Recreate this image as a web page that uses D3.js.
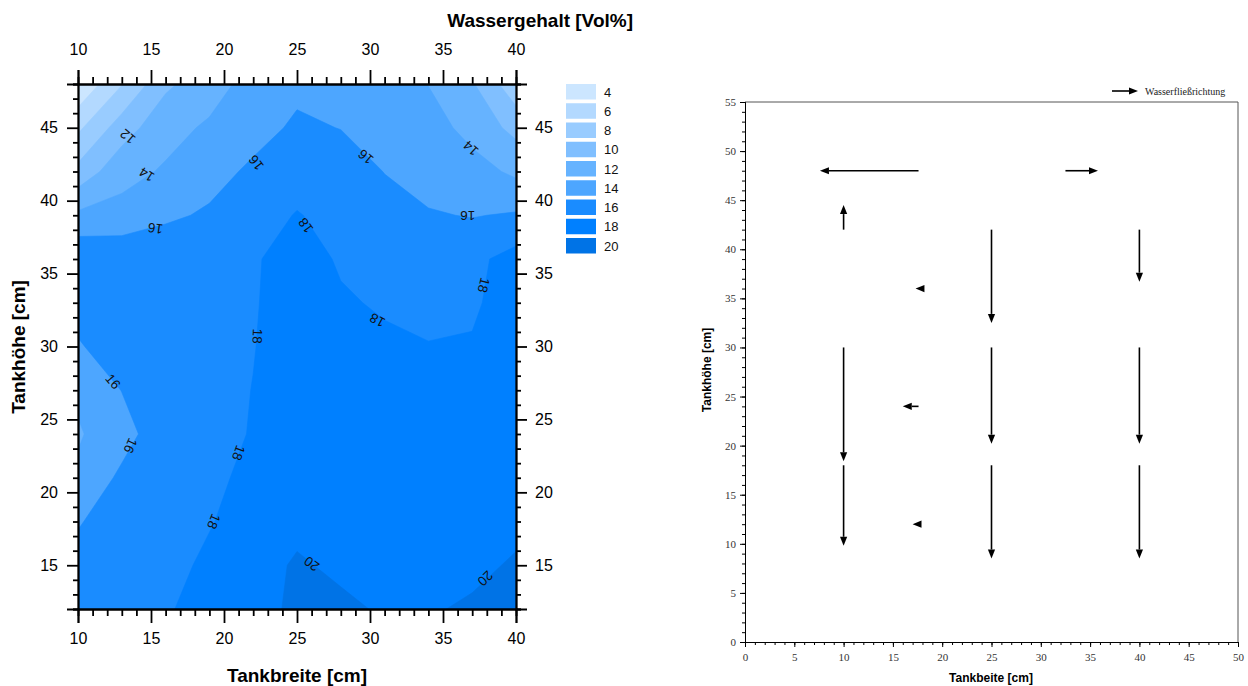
<!DOCTYPE html>
<html>
<head>
<meta charset="utf-8">
<script src="https://cdn.jsdelivr.net/npm/d3@7"></script>
<style>
body { margin: 0; background: #fff; }
svg { display: block; font-family: "Liberation Sans", Arial, sans-serif; }
</style>
</head>
<body>
<svg id="chart" width="1248" height="686"></svg>
<script>
// measuring grid (Tankbreite x Tankhöhe, cm)
var gridX = [10, 13, 16, 19, 22, 25, 28, 31, 34, 37, 40];
var gridY = [48, 45, 42, 39, 36, 33, 30, 27, 24, 21, 18, 15, 12];

// Wassergehalt [Vol%] per row, top row first
var row48 = [4.2, 7.9, 11.6, 13.2, 14.7, 15.5, 15.3, 14.9, 13.95, 12.2, 8.6];
var row45 = [7.6, 11.0, 13.4, 14.26, 15.2, 16.35, 15.95, 15.4, 14.9, 13.3, 11.4];
var row42 = [10.6, 13.4, 14.2, 15.2, 16.4, 17.2, 17.1, 15.95, 15.2, 14.8, 13.6];
var row39 = [14.4, 14.6, 15.6, 16.3, 17.2, 18.1, 17.4, 16.8, 16.16, 15.9, 16.2];
var row36 = [17.7, 17.6, 17.6, 17.7, 17.9, 18.4, 17.9, 17.2, 17.0, 17.5, 18.75];
var row33 = [16.8, 17.2, 17.4, 17.6, 17.9, 18.6, 18.1, 17.9, 17.5, 17.7, 19.0];
var row30 = [15.8, 17.1, 17.3, 17.6, 17.95, 18.7, 18.5, 18.15, 18.07, 18.16, 19.1];
var row27 = [14.35, 16.04, 17.0, 17.5, 18.03, 18.8, 18.9, 18.9, 18.9, 19.0, 19.2];
var row24 = [13.8, 15.2, 17.3, 17.5, 18.09, 19.0, 19.0, 19.0, 19.1, 19.2, 19.3];
var row21 = [14.35, 16.4, 17.1, 17.6, 18.44, 19.2, 19.1, 19.0, 19.2, 19.3, 19.4];
var row18 = [15.8, 17.3, 17.5, 17.9, 18.7, 19.5, 19.2, 19.1, 19.2, 19.4, 19.5];
var row15 = [16.85, 17.3, 17.5, 18.3, 19.2, 20.23, 19.64, 19.3, 19.4, 19.54, 20.23];
var row12 = [17.0, 17.3, 17.8, 18.74, 19.4, 20.32, 20.37, 19.79, 19.81, 20.27, 20.6];
var rows = [row48, row45, row42, row39, row36, row33, row30, row27, row24, row21, row18, row15, row12];

// contour levels and their colours
var levels = [4, 6, 8, 10, 12, 14, 16, 18, 20];
var levelColors = ["#cce6ff", "#b3d9ff", "#99ccff", "#80bfff", "#66b3ff", "#4da6ff", "#1a8cff", "#0080ff", "#0073e6"];

// contour line labels: value, position, rotation
var labelText = ["12", "14", "16", "16", "16", "14", "16", "18", "18", "18", "18", "16", "16", "18", "18", "20", "20"];
var labelX = [13.4, 14.7, 15.3, 22.2, 29.7, 36.9, 36.7, 25.6, 37.8, 30.5, 22.3, 12.4, 13.6, 21.0, 19.3, 26.0, 37.9];
var labelY = [44.4, 41.8, 38.1, 42.6, 43.0, 43.6, 39.0, 38.3, 34.2, 31.8, 30.7, 27.6, 23.2, 22.7, 18.0, 15.1, 14.1];
var labelAngle = [220, 212, 188, 232, 220, 222, 180, 234, 104, 208, 92, 50, 114, 110, 112, 216, 136];

var xTicks = [10, 15, 20, 25, 30, 35, 40];
var yTicks = [15, 20, 25, 30, 35, 40, 45];

// flow arrows (right chart): start -> end in cm
var arrowX0 = [17.6, 32.5, 10, 18.2, 25, 40, 10, 25, 40, 10, 25, 40, 17.6, 17.9];
var arrowY0 = [48, 48, 42, 36, 42, 42, 30, 30, 30, 18, 18, 18, 24, 12];
var arrowX1 = [7.6, 35.8, 10, 17.3, 25, 40, 10, 25, 40, 10, 25, 40, 16.0, 17.0];
var arrowY1 = [48, 48, 44.5, 36, 32.5, 36.7, 18.4, 20.2, 20.2, 9.8, 8.5, 8.5, 24, 12];

var svg = d3.select("#chart");

// ---------- left: contour map ----------
var x = d3.scaleLinear().domain([10, 40]).range([78, 516]);
var y = d3.scaleLinear().domain([12, 48]).range([609, 84]);
// grid index -> cm (d3.contours puts sample i at i + 0.5)
var gx = d3.scaleLinear().domain([0.5, gridX.length - 0.5]).range([gridX[0], gridX[gridX.length - 1]]);
var gy = d3.scaleLinear().domain([0.5, gridY.length - 0.5]).range([gridY[0], gridY[gridY.length - 1]]);

var values = [].concat.apply([], rows);
var contours = d3.contours()
    .size([gridX.length, gridY.length])
    .thresholds(levels)(values);

var path = d3.geoPath(d3.geoTransform({
    point: function (px, py) { this.stream.point(x(gx(px)), y(gy(py))); }
}));

svg.append("clipPath").attr("id", "plotClip")
    .append("rect").attr("x", 78).attr("y", 84).attr("width", 438).attr("height", 525);

svg.append("g").attr("clip-path", "url(#plotClip)")
    .selectAll("path")
    .data(contours)
    .enter().append("path")
    .attr("d", path)
    .attr("fill", function (d, i) { return levelColors[i]; })
    .attr("stroke", function (d, i) { return levelColors[i]; })
    .attr("stroke-width", 0.6);

svg.append("g").selectAll("text")
    .data(labelText)
    .enter().append("text")
    .attr("transform", function (d, i) { return "translate(" + x(labelX[i]) + "," + y(labelY[i]) + ") rotate(" + labelAngle[i] + ")"; })
    .attr("text-anchor", "middle")
    .attr("dy", "0.35em")
    .attr("font-size", 13.5)
    .attr("fill", "#111")
    .text(function (d) { return d; });

var minorX = d3.range(10, 41, 1).filter(function (v) { return v % 5; });
var minorY = d3.range(12, 49, 1).filter(function (v) { return v % 5; });

function styleAxis(g, w) {
    g.attr("font-size", 16).attr("font-family", "Liberation Sans, Arial, sans-serif");
    g.select(".domain").attr("stroke", "#000").attr("stroke-width", w);
    g.selectAll(".tick line").attr("stroke", "#000").attr("stroke-width", w);
    g.selectAll("text").attr("fill", "#000");
}

var axes = [
    [d3.axisBottom(x).tickValues(xTicks).tickSize(14).tickPadding(10), "translate(0,609)", d3.axisBottom(x).tickValues(minorX).tickSize(7)],
    [d3.axisTop(x).tickValues(xTicks).tickSize(14).tickPadding(15), "translate(0,84)", d3.axisTop(x).tickValues(minorX).tickSize(7)],
    [d3.axisLeft(y).tickValues(yTicks).tickSize(11).tickPadding(9), "translate(78,0)", d3.axisLeft(y).tickValues(minorY).tickSize(5)],
    [d3.axisRight(y).tickValues(yTicks).tickSize(11).tickPadding(8), "translate(516,0)", d3.axisRight(y).tickValues(minorY).tickSize(5)]
];
axes.forEach(function (a) {
    var g1 = svg.append("g").attr("transform", a[1]).call(a[2].tickFormat(""));
    styleAxis(g1, 1.8);
    var g2 = svg.append("g").attr("transform", a[1]).call(a[0]);
    styleAxis(g2, 1.8);
});

svg.append("text").attr("x", 633).attr("y", 27).attr("text-anchor", "end")
    .attr("font-size", 19).attr("font-weight", "bold").text("Wassergehalt [Vol%]");
svg.append("text").attr("x", 297).attr("y", 682).attr("text-anchor", "middle")
    .attr("font-size", 19).attr("font-weight", "bold").text("Tankbreite [cm]");
svg.append("text").attr("transform", "translate(25,347) rotate(-90)").attr("text-anchor", "middle")
    .attr("font-size", 19).attr("font-weight", "bold").text("Tankhöhe [cm]");

// legend
var legend = svg.append("g").selectAll("g")
    .data(levels)
    .enter().append("g")
    .attr("transform", function (d, i) { return "translate(566," + (84 + i * 19.25) + ")"; });
legend.append("rect").attr("width", 30).attr("height", 15.5)
    .attr("fill", function (d, i) { return levelColors[i]; });
legend.append("text").attr("x", 38).attr("y", 8).attr("dy", "0.35em")
    .attr("font-size", 13).attr("fill", "#111").text(function (d) { return d; });

// ---------- right: flow directions ----------
var x2 = d3.scaleLinear().domain([0, 50]).range([745, 1238]);
var y2 = d3.scaleLinear().domain([0, 55]).range([642, 102]);

svg.append("line").attr("x1", 745).attr("x2", 1238).attr("y1", 102).attr("y2", 102)
    .attr("stroke", "#555").attr("stroke-width", 1);
svg.append("line").attr("x1", 1238).attr("x2", 1238).attr("y1", 102).attr("y2", 642)
    .attr("stroke", "#555").attr("stroke-width", 1);

function styleAxis2(g) {
    g.attr("font-size", 11).attr("font-family", "Liberation Serif, Times New Roman, serif");
    g.select(".domain").attr("stroke", "#000").attr("stroke-width", 1);
    g.selectAll(".tick line").attr("stroke", "#000").attr("stroke-width", 1);
    g.selectAll("text").attr("fill", "#333");
}
var g3 = svg.append("g").attr("transform", "translate(0,642)")
    .call(d3.axisBottom(x2).ticks(50).tickSize(3).tickFormat(""));
styleAxis2(g3);
var g4 = svg.append("g").attr("transform", "translate(0,642)")
    .call(d3.axisBottom(x2).tickValues(d3.range(0, 51, 5)).tickSize(5).tickPadding(6));
styleAxis2(g4);
var g5 = svg.append("g").attr("transform", "translate(745,0)")
    .call(d3.axisLeft(y2).ticks(55).tickSize(3).tickFormat(""));
styleAxis2(g5);
var g6 = svg.append("g").attr("transform", "translate(745,0)")
    .call(d3.axisLeft(y2).tickValues(d3.range(0, 56, 5)).tickSize(5).tickPadding(4));
styleAxis2(g6);

svg.append("text").attr("x", 991).attr("y", 682).attr("text-anchor", "middle")
    .attr("font-size", 12).attr("font-weight", "bold").text("Tankbeite [cm]");
svg.append("text").attr("transform", "translate(711,370) rotate(-90)").attr("text-anchor", "middle")
    .attr("font-size", 12).attr("font-weight", "bold").text("Tankhöhe [cm]");

function arrow(g, ax, ay, bx, by) {
    var dx = bx - ax, dy = by - ay, len = Math.sqrt(dx * dx + dy * dy);
    var ux = dx / len, uy = dy / len, hl = Math.min(9, len), hw = 3.6;
    var cx = bx - ux * hl, cy = by - uy * hl;
    if (len > hl) {
        g.append("line").attr("x1", ax).attr("y1", ay).attr("x2", cx).attr("y2", cy)
            .attr("stroke", "#000").attr("stroke-width", 1.6);
    }
    g.append("path")
        .attr("d", "M" + bx + "," + by + "L" + (cx - uy * hw) + "," + (cy + ux * hw) + "L" + (cx + uy * hw) + "," + (cy - ux * hw) + "Z")
        .attr("fill", "#000");
}
var arrows = svg.append("g");
arrowX0.forEach(function (v, i) {
    arrow(arrows, x2(arrowX0[i]), y2(arrowY0[i]), x2(arrowX1[i]), y2(arrowY1[i]));
});

// legend for flow direction
arrow(svg, 1112, 91, 1138, 91);
svg.append("text").attr("x", 1145).attr("y", 94.5)
    .attr("font-family", "Liberation Serif, Times New Roman, serif")
    .attr("font-size", 10).attr("fill", "#222").text("Wasserfließrichtung");
</script>
</body>
</html>
